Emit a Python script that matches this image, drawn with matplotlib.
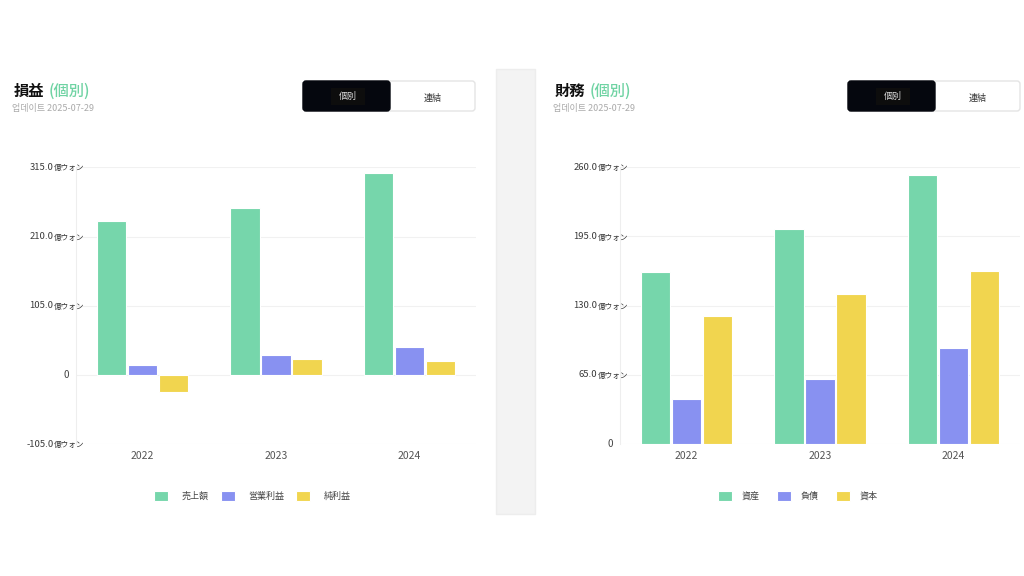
import matplotlib
matplotlib.use("Agg")
import matplotlib.pyplot as plt
import matplotlib.transforms as mtransforms
from matplotlib.patches import Rectangle, FancyBboxPatch
import numpy as np

plt.rcParams['font.family'] = ['Noto Sans CJK JP', 'Noto Sans CJK KR', 'DejaVu Sans']

# data
years = ['2022', '2023', '2024']
pl_names = ['売上額', '営業利益', '純利益']
sales = [233, 253, 306]
op_profit = [15, 30, 43]
net_profit = [-26, 24, 21]
pl_ticks = [-105, 0, 105, 210, 315]

bs_names = ['資産', '負債', '資本']
assets = [162, 202, 253]
liabilities = [42, 61, 90]
equity = [120, 141, 163]
bs_ticks = [0, 65, 130, 195, 260]

colors = ['#76d6ab', '#8891f1', '#f1d54f']
W, H = 1024, 576

fig = plt.figure(figsize=(W / 100, H / 100), dpi=100)
fig.patch.set_facecolor('white')

# overlay in pixel coords for headers / toggles / divider
ov = fig.add_axes([0, 0, 1, 1], zorder=0)
ov.set_xlim(0, W)
ov.set_ylim(H, 0)
ov.axis('off')

# divider strip
ov.add_patch(Rectangle((496, 69), 39, 445, facecolor='#f3f3f3', edgecolor='#ededed', lw=1))


def header(x0, title, toggle_x0, toggle_x1, split):
    t = ov.text(x0, 91, title, fontsize=11, fontweight='bold', color='#111111', va='center')
    fig.canvas.draw()
    bb = t.get_window_extent()
    ov.text(bb.x1 + 4, 91, '(個別)', fontsize=11, fontweight='medium', color='#6fd3a3', va='center')
    ov.text(x0 - 2, 109, '업데이트 2025-07-29', fontsize=6.5, color='#aaaaaa', va='center')
    # toggle
    ov.add_patch(FancyBboxPatch((toggle_x0, 81), toggle_x1 - toggle_x0, 30,
                                boxstyle='round,pad=0,rounding_size=3',
                                facecolor='white', edgecolor='#e4e4e4', lw=1))
    ov.add_patch(FancyBboxPatch((toggle_x0, 81), split - toggle_x0, 30,
                                boxstyle='round,pad=0,rounding_size=3',
                                facecolor='#05070e', edgecolor='#05070e', lw=1))
    cx = (toggle_x0 + split) / 2 + 1
    ov.add_patch(Rectangle((cx - 17, 87.5), 34, 17, facecolor='#0d0d0d', edgecolor='none'))
    ov.text(cx, 96, '個別', fontsize=6.5, color='#dddddd', ha='center', va='center')
    ov.text((split + toggle_x1) / 2, 98, '連結', fontsize=6.5, color='#333333', ha='center', va='center')


header(14, '損益', 303, 475, 390)
header(555, '財務', 848, 1020, 935)


def bar_chart(rect, series, names, ticks, ylim, legend_x, textpad, colspace):
    ax = fig.add_axes(rect, zorder=2)
    ax.patch.set_alpha(0)
    x = np.arange(len(years))
    off = 0.2325
    bars = []
    for i, (vals, name) in enumerate(zip(series, names)):
        b = ax.bar(x + (i - 1) * off, vals, width=0.22, color=colors[i],
                   edgecolor='white', linewidth=0.8, label=name, zorder=3)
        bars.append(b)
    ax.set_xlim(-0.5, len(years) - 0.5)
    ax.set_ylim(*ylim)
    ax.set_yticks(ticks)
    ax.set_yticklabels([])
    ax.yaxis.grid(True, color='#f1f1f1', lw=0.8, zorder=0)
    ax.tick_params(axis='y', length=0)
    ax.set_xticks(x)
    ax.set_xticklabels(years, fontsize=7.5, color='#555555')
    ax.tick_params(axis='x', length=0, pad=5)
    for s in ['top', 'right', 'bottom']:
        ax.spines[s].set_visible(False)
    ax.spines['left'].set_color('#eeeeee')
    ax.spines['left'].set_linewidth(0.8)

    trans = mtransforms.blended_transform_factory(ax.transAxes, ax.transData)
    for v in ticks:
        if v == 0:
            ax.text(0, v, '0', transform=trans + mtransforms.ScaledTranslation(-0.065, 0, fig.dpi_scale_trans),
                    fontsize=7, color='#444444', ha='right', va='center')
        else:
            ax.text(0, v, f'{v:.1f}', transform=trans + mtransforms.ScaledTranslation(-0.225, 0, fig.dpi_scale_trans),
                    fontsize=6.8, color='#3a3a3a', ha='right', va='center', clip_on=False)
            ax.text(0, v, '億ウォン', transform=trans + mtransforms.ScaledTranslation(-0.22, -0.01, fig.dpi_scale_trans),
                    fontsize=5.5, color='#333333', ha='left', va='center', clip_on=False)

    fig.legend(handles=bars, labels=names, loc='center left',
               bbox_to_anchor=(legend_x / W, 1 - 496 / H), ncol=3, frameon=False,
               fontsize=6.5, handlelength=1.55, handleheight=1.3, handletextpad=textpad,
               columnspacing=colspace, borderpad=0, borderaxespad=0, labelcolor='#444444')
    return ax


bar_chart([76 / W, 1 - 444.3 / H, 400 / W, 277 / H], [sales, op_profit, net_profit],
          pl_names, pl_ticks, (-105, 315), 154, 1.5, 1.33)
bar_chart([620 / W, 1 - 444 / H, 400 / W, 276.7 / H], [assets, liabilities, equity],
          bs_names, bs_ticks, (0, 260), 718, 1.1, 1.9)

fig.savefig('out.png', dpi=100)
